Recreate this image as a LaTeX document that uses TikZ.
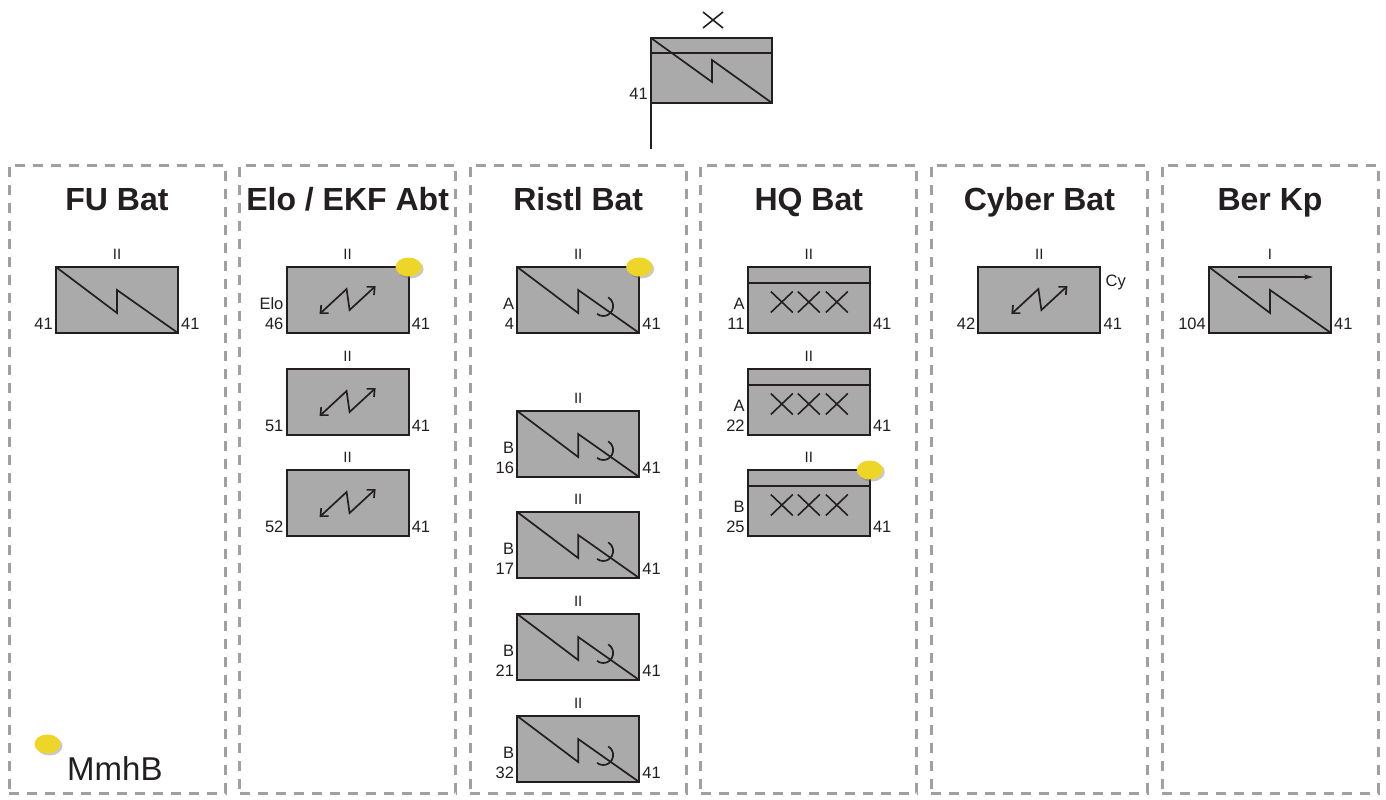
\documentclass[tikz,border=0pt]{standalone}
\usepackage{fontspec}
\setmainfont{Liberation Sans}
\usetikzlibrary{arrows.meta,calc}
\definecolor{boxgray}{RGB}{170,170,170}
\definecolor{ink}{RGB}{35,31,32}
\definecolor{dashgray}{RGB}{160,160,160}
\definecolor{dotyellow}{RGB}{238,214,40}
\tikzset{
  unitbox/.style={draw=ink, fill=boxgray, line width=2pt, minimum width=122pt, minimum height=66pt, inner sep=0pt, outer sep=0pt},
  panelbox/.style={draw=dashgray, line width=3pt, dash pattern=on 10pt off 8pt, minimum width=216pt, minimum height=628pt, inner sep=0pt, outer sep=0pt, anchor=north west},
  sym/.style={draw=ink, line width=1.7pt, line join=miter},
  xsym/.style={draw=ink, line width=1.6pt},
  lab/.style={font=\fontsize{16.5}{16.5}\selectfont, text=ink, inner sep=0pt},
  echelon/.style={font=\fontsize{15}{15}\selectfont, text=ink, inner sep=0pt, anchor=base},
  ttl/.style={font=\fontsize{32}{32}\selectfont\bfseries, text=ink, inner sep=0pt, anchor=base},
  ewtip/.style={{Straight Barb[length=6pt,width=11pt]}-{Straight Barb[length=6pt,width=11pt]}},
}
\newcommand\uEch[2]{\node[echelon] (#1-ech) at ([yshift=8pt]#1.north) {#2};}
\newcommand\uLeft[2]{\node[lab, anchor=base east] (#1-l) at ([xshift=-3pt,yshift=4pt]#1.south west) {#2};}
\newcommand\uLeftUp[2]{\node[lab, anchor=base east] (#1-lu) at ([xshift=-3pt,yshift=24pt]#1.south west) {#2};}
\newcommand\uRight[2]{\node[lab, anchor=base west] (#1-r) at ([xshift=3pt,yshift=4pt]#1.south east) {#2};}
\newcommand\uZig[1]{\begin{scope}[shift={(#1.north west)}]\draw[sym] (0,0) -- (61,46) -- (61,23) -- (122,66);\end{scope}}
\newcommand\uArc[1]{\begin{scope}[shift={(#1.north west)}]\draw[sym] (86,39) ++(-60:10) arc[start angle=-60, end angle=128, radius=10];\end{scope}}
\newcommand\uEW[1]{\begin{scope}[shift={(#1.north west)}]\draw[sym, ewtip] (33,47) -- (60,22) -- (63,43) -- (89,19);\end{scope}}
\newcommand\uHQ[1]{\begin{scope}[shift={(#1.north west)}]\draw[sym] (0,16) -- (122,16);
  \foreach \cx in {34,61,89} {\draw[xsym] (\cx-11,24.5) -- (\cx+11,45.5) (\cx-11,45.5) -- (\cx+11,24.5);}\end{scope}}
\newcommand\uDot[1]{\fill[black!60, opacity=.35] ([xshift=2pt,yshift=-2pt]#1) ellipse[x radius=13, y radius=9.5];
  \fill[dotyellow] (#1) ellipse[x radius=13, y radius=9.5];}
\begin{document}
\begin{tikzpicture}[x=1pt, y=-1pt]
\fill[white] (0,0) rectangle (1386,800);
\useasboundingbox (0,0) rectangle (1386,800);

% top unit
\node[unitbox, minimum width=121pt, minimum height=65pt, anchor=north west] (top) at (651,38) {};
\begin{scope}[shift={(top.north west)}]
  \draw[sym] (0,15) -- (121,15);
  \draw[sym] (0,0) -- (61,44) -- (61,22) -- (121,65);
\end{scope}
\coordinate (staffend) at (651,149);
\draw[ink, line width=2pt] (top.north west) -- (staffend);
\coordinate (topx) at (713,20);
\draw[xsym] ([xshift=-10pt,yshift=8pt]topx) -- ([xshift=10pt,yshift=-8pt]topx)
            ([xshift=-10pt,yshift=-8pt]topx) -- ([xshift=10pt,yshift=8pt]topx);
\uLeft{top}{41}

% panels
\node[panelbox] (p1) at (9,165) {};
\node[panelbox] (p2) at (239.6,165) {};
\node[panelbox] (p3) at (470.2,165) {};
\node[panelbox] (p4) at (700.8,165) {};
\node[panelbox] (p5) at (931.4,165) {};
\node[panelbox] (p6) at (1162,165) {};

\node[ttl] (t1) at ($(p1.north)+(0,45)$) {FU Bat};
\node[ttl] (t2) at ($(p2.north)+(0,45)$) {Elo / EKF Abt};
\node[ttl] (t3) at ($(p3.north)+(0,45)$) {Ristl Bat};
\node[ttl] (t4) at ($(p4.north)+(0,45)$) {HQ Bat};
\node[ttl] (t5) at ($(p5.north)+(0,45)$) {Cyber Bat};
\node[ttl] (t6) at ($(p6.north)+(0,45)$) {Ber Kp};

% FU Bat
\node[unitbox, anchor=north] (fu) at ($(p1.north)+(0,102)$) {};
\uZig{fu}\uEch{fu}{II}\uLeft{fu}{41}\uRight{fu}{41}

% Elo / EKF Abt
\node[unitbox, anchor=north] (e1) at ($(p2.north)+(0,102)$) {};
\node[unitbox, anchor=north] (e2) at ($(p2.north)+(0,204)$) {};
\node[unitbox, anchor=north] (e3) at ($(p2.north)+(0,305)$) {};
\uEW{e1}\uEW{e2}\uEW{e3}
\uEch{e1}{II}\uEch{e2}{II}\uEch{e3}{II}
\uLeft{e1}{46}\uLeftUp{e1}{Elo}\uRight{e1}{41}
\uLeft{e2}{51}\uRight{e2}{41}
\uLeft{e3}{52}\uRight{e3}{41}
\uDot{e1.north east}

% Ristl Bat
\node[unitbox, anchor=north] (r1) at ($(p3.north)+(0,102)$) {};
\node[unitbox, anchor=north] (r2) at ($(p3.north)+(0,246)$) {};
\node[unitbox, anchor=north] (r3) at ($(p3.north)+(0,347)$) {};
\node[unitbox, anchor=north] (r4) at ($(p3.north)+(0,449)$) {};
\node[unitbox, anchor=north] (r5) at ($(p3.north)+(0,551)$) {};
\foreach \n in {r1,r2,r3,r4,r5} {\uZig{\n}\uArc{\n}\uEch{\n}{II}\uRight{\n}{41}}
\uLeft{r1}{4}\uLeftUp{r1}{A}
\uLeft{r2}{16}\uLeftUp{r2}{B}
\uLeft{r3}{17}\uLeftUp{r3}{B}
\uLeft{r4}{21}\uLeftUp{r4}{B}
\uLeft{r5}{32}\uLeftUp{r5}{B}
\uDot{r1.north east}

% HQ Bat
\node[unitbox, anchor=north] (h1) at ($(p4.north)+(0,102)$) {};
\node[unitbox, anchor=north] (h2) at ($(p4.north)+(0,204)$) {};
\node[unitbox, anchor=north] (h3) at ($(p4.north)+(0,305)$) {};
\foreach \n in {h1,h2,h3} {\uHQ{\n}\uEch{\n}{II}\uRight{\n}{41}}
\uLeft{h1}{11}\uLeftUp{h1}{A}
\uLeft{h2}{22}\uLeftUp{h2}{A}
\uLeft{h3}{25}\uLeftUp{h3}{B}
\uDot{h3.north east}

% Cyber Bat
\node[unitbox, anchor=north] (c1) at ($(p5.north)+(0,102)$) {};
\uEW{c1}\uEch{c1}{II}\uLeft{c1}{42}\uRight{c1}{41}
\node[lab, anchor=base west] (c1-cy) at ([xshift=5pt,yshift=-19pt]c1.north east) {Cy};

% Ber Kp
\node[unitbox, anchor=north] (b1) at ($(p6.north)+(0,102)$) {};
\uZig{b1}
\begin{scope}[shift={(b1.north west)}]
  \draw[sym, -{Stealth[length=9pt,width=5pt]}] (29,10) -- (104,10);
\end{scope}
\uEch{b1}{I}\uLeft{b1}{104}\uRight{b1}{41}

% legend
\coordinate (legdot) at (47.5,744);
\uDot{legdot}
\node[anchor=base west, inner sep=0pt, text=ink, font=\fontsize{33}{33}\selectfont] (mmhb) at (67,780) {MmhB};
\end{tikzpicture}
\end{document}
